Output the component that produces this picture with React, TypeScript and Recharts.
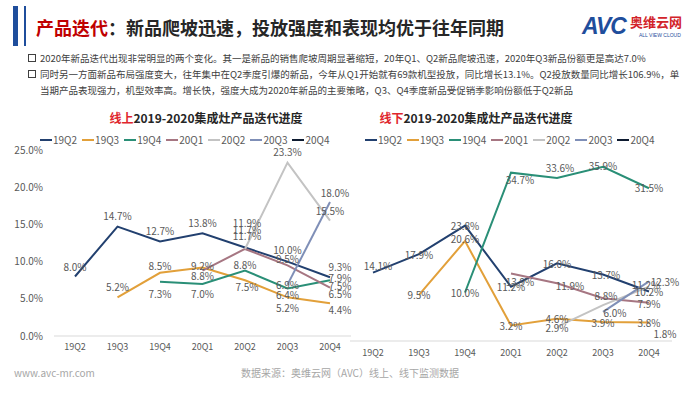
import React from 'react';
import { LineChart, Line, XAxis, YAxis, LabelList } from 'recharts';

const categories = ['19Q2', '19Q3', '19Q4', '20Q1', '20Q2', '20Q3', '20Q4'];
const seriesNames = ['19Q2', '19Q3', '19Q4', '20Q1', '20Q2', '20Q3', '20Q4'];

// 线上 (online)
const on19Q2 = [8.0, 14.7, 12.7, 13.8, 11.9, 10.0, 7.9];
const on19Q3 = [null, 5.2, 8.5, 9.2, 7.5, 5.2, 4.4];
const on19Q4 = [null, null, 7.3, 7.0, 8.8, 6.4, 7.5];
const on20Q1 = [null, null, null, 8.8, 11.7, 9.5, 6.5];
const on20Q2 = [null, null, null, null, 11.7, 23.3, 15.5];
const on20Q3 = [null, null, null, null, null, 6.9, 18.0];
const on20Q4 = [null, null, null, null, null, null, 9.3];

// 线下 (offline)
const off19Q2 = [14.1, 17.9, 23.8, 11.2, 16.0, 13.7, 10.2];
const off19Q3 = [null, 9.5, 20.6, 3.2, 4.6, 3.9, 3.8];
const off19Q4 = [null, null, 10.0, 34.7, 33.6, 35.9, 31.5];
const off20Q1 = [null, null, null, 13.9, 11.9, 8.8, 7.9];
const off20Q2 = [null, null, null, null, 2.9, 7.4, 11.2];
const off20Q3 = [null, null, null, null, null, 6.0, 12.3];
const off20Q4 = [null, null, null, null, null, null, 1.8];

const leftTicks = [0, 5, 10, 15, 20, 25];

const COLORS: Record<string, string> = {
  '19Q2': '#22406F',
  '19Q3': '#E2A03A',
  '19Q4': '#2A8F77',
  '20Q1': '#A67682',
  '20Q2': '#C3C3C3',
  '20Q3': '#7F8FB7',
  '20Q4': '#0E1B30',
};

const FONT = '"Noto Sans CJK SC", "Noto Sans", sans-serif';

type Off = [number, number] | null;

// label offsets [dx, dy] per series per index
const LEFT_LABELS: Record<string, Record<number, Off>> = {
  '19Q2': { 0: [0, -10], 1: [0, -11], 2: [0, -11], 3: [0, -11], 4: [2, -25], 5: [0, -12], 6: [10, 0] },
  '19Q3': { 1: [0, -11], 2: [0, -7], 3: [0, -2], 4: [2, 6], 5: [0, 10], 6: [10, 6] },
  '19Q4': { 2: [0, 12], 3: [0, 10], 4: [0, -6], 5: [0, 6], 6: [10, 5] },
  '20Q1': { 3: [0, 5], 4: [2, -19], 5: [0, -7], 6: [10, 6] },
  '20Q2': { 4: [2, -13], 5: [0, -11], 6: [0, -10] },
  '20Q3': { 5: [0, 0], 6: [5, -10] },
  '20Q4': { 6: [10, 0] },
};

const RIGHT_LABELS: Record<string, Record<number, Off>> = {
  '19Q2': { 0: [5, -7], 1: [0, 0], 2: [0, 0], 3: [0, 0], 4: [0, 0], 5: [3, 0], 6: [0, 0] },
  '19Q3': { 1: [0, 0], 2: [0, -3], 3: [0, 0], 4: [0, 0], 5: [0, 0], 6: [0, 0] },
  '19Q4': { 2: [0, 0], 3: [9, 7], 4: [3, -11], 5: [0, -1], 6: [0, -1] },
  '20Q1': { 3: [9, 8], 4: [13, 2], 5: [3, -3], 6: [0, 1] },
  '20Q2': { 4: [0, 1], 5: null, 6: [-3, -2] },
  '20Q3': { 5: [12, 1], 6: [16, 0] },
  '20Q4': { 6: [16, 1] },
};

function buildRows(series: (number | null)[][]) {
  return categories.map((c, i) => {
    const row: Record<string, any> = { cat: c };
    seriesNames.forEach((n, j) => {
      row[n] = series[j][i];
    });
    return row;
  });
}

const onlineRows = buildRows([on19Q2, on19Q3, on19Q4, on20Q1, on20Q2, on20Q3, on20Q4]);
const offlineRows = buildRows([off19Q2, off19Q3, off19Q4, off20Q1, off20Q2, off20Q3, off20Q4]);

const makeLabel = (offsets: Record<number, Off>) => (props: any) => {
  const { value, index } = props;
  if (value === null || value === undefined) return null;
  const off = offsets[index];
  if (!off) return null;
  const x = props.viewBox?.x ?? props.x;
  const y = props.viewBox?.y ?? props.y;
  if (x === undefined || y === undefined) return null;
  return (
    <text
      x={x + off[0]}
      y={y + off[1]}
      textAnchor="middle"
      dominantBaseline="central"
      fontSize={10}
      fill="#595959"
      fontFamily={FONT}
    >
      {Number(value).toFixed(1)}%
    </text>
  );
};

const Legend = ({ left, top }: { left: number; top: number }) => (
  <div
    style={{
      position: 'absolute',
      left,
      top,
      display: 'flex',
      alignItems: 'center',
      fontFamily: FONT,
      fontSize: 10,
      color: '#595959',
      whiteSpace: 'nowrap',
    }}
  >
    {seriesNames.map((n) => (
      <div key={n} style={{ display: 'flex', alignItems: 'center', marginRight: 5 }}>
        <div style={{ width: 12, height: 2, background: COLORS[n], marginRight: 1 }} />
        <span>{n}</span>
      </div>
    ))}
  </div>
);

export default function App() {
  return (
    <div
      style={{
        position: 'absolute',
        left: 0,
        top: 0,
        width: 700,
        height: 394,
        overflow: 'hidden',
        background: '#FFFFFF',
        fontFamily: FONT,
      }}
    >
      {/* header bars */}
      <div style={{ position: 'absolute', left: 13, top: 6, width: 5, height: 40, background: '#1F4E9C' }} />
      <div style={{ position: 'absolute', left: 24, top: 6, width: 2, height: 40, background: '#1F4E9C' }} />
      <div
        style={{
          position: 'absolute',
          left: 36,
          top: 15,
          fontSize: 18,
          fontWeight: 700,
          whiteSpace: 'nowrap',
          color: '#262626',
          lineHeight: '24px',
        }}
      >
        <span style={{ color: '#C00000' }}>产品迭代</span>：新品爬坡迅速，投放强度和表现均优于往年同期
      </div>

      {/* logo */}
      <div
        style={{
          position: 'absolute',
          left: 582,
          top: 13,
          fontFamily: '"Liberation Sans", Arial, sans-serif',
          fontSize: 23,
          fontWeight: 700,
          fontStyle: 'italic',
          color: '#1F4E9C',
          letterSpacing: -1,
          lineHeight: '26px',
        }}
      >
        AVC
      </div>
      <div
        style={{
          position: 'absolute',
          left: 630,
          top: 14,
          fontSize: 13,
          fontWeight: 700,
          color: '#D2232A',
          lineHeight: '16px',
          whiteSpace: 'nowrap',
        }}
      >
        奥维云网
      </div>
      <div
        style={{
          position: 'absolute',
          left: 639,
          top: 32,
          fontSize: 5,
          color: '#1F4E9C',
          lineHeight: '6px',
          whiteSpace: 'nowrap',
          fontFamily: '"Liberation Sans", Arial, sans-serif',
        }}
      >
        ALL VIEW CLOUD
      </div>

      {/* bullets */}
      {[
        { top: 51, text: '2020年新品迭代出现非常明显的两个变化。其一是新品的销售爬坡周期显著缩短，20年Q1、Q2新品爬坡迅速，2020年Q3新品份额更是高达7.0%', box: true },
        { top: 67, text: '同时另一方面新品布局强度变大，往年集中在Q2季度引爆的新品，今年从Q1开始就有69款机型投放，同比增长13.1%。Q2投放数量同比增长106.9%，单', box: true },
        { top: 83, text: '当期产品表现强力，机型效率高。增长快，强度大成为2020年新品的主要策略，Q3、Q4季度新品受促销季影响份额低于Q2新品', box: false },
      ].map((b, i) => (
        <div key={i}>
          {b.box && (
            <div
              style={{
                position: 'absolute',
                left: 28,
                top: b.top + 3,
                width: 6,
                height: 6,
                border: '1px solid #404040',
              }}
            />
          )}
          <div
            style={{
              position: 'absolute',
              left: 40,
              top: b.top,
              fontSize: 9.5,
              color: '#404040',
              whiteSpace: 'nowrap',
              lineHeight: '14px',
            }}
          >
            {b.text}
          </div>
        </div>
      ))}

      {/* chart titles */}
      <div
        style={{
          position: 'absolute',
          left: 56,
          width: 300,
          top: 109,
          textAlign: 'center',
          fontSize: 12,
          fontWeight: 700,
          color: '#262626',
          whiteSpace: 'nowrap',
          lineHeight: '18px',
        }}
      >
        <span style={{ color: '#E0262D' }}>线上</span>2019-2020集成灶产品迭代进度
      </div>
      <div
        style={{
          position: 'absolute',
          left: 326,
          width: 300,
          top: 109,
          textAlign: 'center',
          fontSize: 12,
          fontWeight: 700,
          color: '#262626',
          whiteSpace: 'nowrap',
          lineHeight: '18px',
        }}
      >
        <span style={{ color: '#E0262D' }}>线下</span>2019-2020集成灶产品迭代进度
      </div>

      <Legend left={40} top={132} />
      <Legend left={365} top={132} />

      {/* left chart */}
      <div style={{ position: 'absolute', left: 0, top: 140 }}>
        <LineChart
          width={360}
          height={226}
          data={onlineRows}
          margin={{ top: 10, right: 9, bottom: 0, left: 0 }}
        >
          <XAxis
            dataKey="cat"
            padding={{ left: 21, right: 21 }}
            axisLine={{ stroke: '#D9D9D9' }}
            tickLine={false}
            tickSize={6}
            height={30}
            tick={{ fontSize: 9, fill: '#595959', fontFamily: FONT }}
          />
          <YAxis
            width={54}
            domain={[0, 25]}
            ticks={leftTicks}
            tickFormatter={(v: number) => v.toFixed(1) + '%'}
            axisLine={false}
            tickLine={false}
            tickSize={9}
            tick={{ fontSize: 10, fill: '#595959', fontFamily: FONT }}
          />
          {seriesNames.map((n) => (
            <Line
              key={n}
              dataKey={n}
              stroke={COLORS[n]}
              strokeWidth={2}
              dot={false}
              activeDot={false}
              isAnimationActive={false}
              connectNulls={false}
            >
              <LabelList dataKey={n} content={makeLabel(LEFT_LABELS[n])} />
            </Line>
          ))}
        </LineChart>
      </div>

      {/* right chart */}
      <div style={{ position: 'absolute', left: 350, top: 140 }}>
        <LineChart
          width={330}
          height={231}
          data={offlineRows}
          margin={{ top: 7, right: 8, bottom: 0, left: 0 }}
        >
          <XAxis
            dataKey="cat"
            padding={{ left: 23, right: 23 }}
            axisLine={{ stroke: '#D9D9D9' }}
            tickLine={false}
            tickSize={7}
            height={30}
            tick={{ fontSize: 9, fill: '#595959', fontFamily: FONT }}
          />
          <YAxis hide domain={[0, 40]} />
          {seriesNames.map((n) => (
            <Line
              key={n}
              dataKey={n}
              stroke={COLORS[n]}
              strokeWidth={2}
              dot={false}
              activeDot={false}
              isAnimationActive={false}
              connectNulls={false}
            >
              <LabelList dataKey={n} content={makeLabel(RIGHT_LABELS[n])} />
            </Line>
          ))}
        </LineChart>
      </div>

      {/* footer */}
      <div
        style={{
          position: 'absolute',
          left: 14,
          top: 366,
          fontSize: 10,
          color: '#A6A6A6',
          whiteSpace: 'nowrap',
          lineHeight: '14px',
        }}
      >
        www.avc-mr.com
      </div>
      <div
        style={{
          position: 'absolute',
          left: 0,
          width: 700,
          top: 366,
          textAlign: 'center',
          fontSize: 10,
          color: '#A6A6A6',
          whiteSpace: 'nowrap',
          lineHeight: '14px',
        }}
      >
        数据来源：奥维云网（AVC）线上、线下监测数据
      </div>
    </div>
  );
}
